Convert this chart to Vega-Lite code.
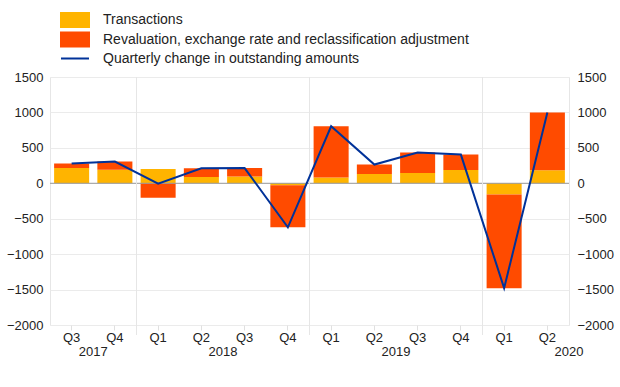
{
  "$schema": "https://vega.github.io/schema/vega-lite/v6.json",
  "width": 519,
  "height": 248,
  "autosize": "none",
  "padding": {"left": 50, "top": 77, "right": 51, "bottom": 62},
  "background": "white",
  "config": {
    "font": "Liberation Sans",
    "view": {"stroke": "#e6e6e6"},
    "axis": {"labelFont": "Liberation Sans", "labelFontSize": 13, "labelColor": "#222", "title": null}
  },
  "datasets": {
    "bars": [
      {"quarter": "2017-Q3", "series": "Transactions", "value": 215},
      {"quarter": "2017-Q3", "series": "Revaluation, exchange rate and reclassification adjustment", "value": 63},
      {"quarter": "2017-Q4", "series": "Transactions", "value": 190},
      {"quarter": "2017-Q4", "series": "Revaluation, exchange rate and reclassification adjustment", "value": 116},
      {"quarter": "2018-Q1", "series": "Transactions", "value": 200},
      {"quarter": "2018-Q1", "series": "Revaluation, exchange rate and reclassification adjustment", "value": -205},
      {"quarter": "2018-Q2", "series": "Transactions", "value": 90},
      {"quarter": "2018-Q2", "series": "Revaluation, exchange rate and reclassification adjustment", "value": 122},
      {"quarter": "2018-Q3", "series": "Transactions", "value": 95},
      {"quarter": "2018-Q3", "series": "Revaluation, exchange rate and reclassification adjustment", "value": 120},
      {"quarter": "2018-Q4", "series": "Transactions", "value": -28},
      {"quarter": "2018-Q4", "series": "Revaluation, exchange rate and reclassification adjustment", "value": -593},
      {"quarter": "2019-Q1", "series": "Transactions", "value": 80},
      {"quarter": "2019-Q1", "series": "Revaluation, exchange rate and reclassification adjustment", "value": 725},
      {"quarter": "2019-Q2", "series": "Transactions", "value": 132},
      {"quarter": "2019-Q2", "series": "Revaluation, exchange rate and reclassification adjustment", "value": 132},
      {"quarter": "2019-Q3", "series": "Transactions", "value": 146},
      {"quarter": "2019-Q3", "series": "Revaluation, exchange rate and reclassification adjustment", "value": 287},
      {"quarter": "2019-Q4", "series": "Transactions", "value": 188},
      {"quarter": "2019-Q4", "series": "Revaluation, exchange rate and reclassification adjustment", "value": 217},
      {"quarter": "2020-Q1", "series": "Transactions", "value": -160},
      {"quarter": "2020-Q1", "series": "Revaluation, exchange rate and reclassification adjustment", "value": -1320},
      {"quarter": "2020-Q2", "series": "Transactions", "value": 184},
      {"quarter": "2020-Q2", "series": "Revaluation, exchange rate and reclassification adjustment", "value": 816}
    ],
    "change": [
      {"quarter": "2017-Q3", "change": 278},
      {"quarter": "2017-Q4", "change": 306},
      {"quarter": "2018-Q1", "change": -5},
      {"quarter": "2018-Q2", "change": 212},
      {"quarter": "2018-Q3", "change": 215},
      {"quarter": "2018-Q4", "change": -621},
      {"quarter": "2019-Q1", "change": 805},
      {"quarter": "2019-Q2", "change": 264},
      {"quarter": "2019-Q3", "change": 433},
      {"quarter": "2019-Q4", "change": 405},
      {"quarter": "2020-Q1", "change": -1480},
      {"quarter": "2020-Q2", "change": 1000}
    ]
  },
  "layer": [
    {
      "layer": [
        {
          "data": {"name": "bars"},
          "mark": {"type": "bar", "width": {"band": 0.81}},
          "encoding": {
            "x": {
              "field": "quarter",
              "type": "ordinal",
              "sort": null,
              "scale": {
                "domain": ["2017-Q3", "2017-Q4", "2018-Q1", "2018-Q2", "2018-Q3", "2018-Q4", "2019-Q1", "2019-Q2", "2019-Q3", "2019-Q4", "2020-Q1", "2020-Q2"],
                "paddingInner": 0,
                "paddingOuter": 0
              },
              "axis": {
                "labelExpr": "substring(datum.value, 5)",
                "labelAngle": 0,
                "ticks": true,
                "tickColor": "#e0e0e0",
                "tickSize": 5,
                "domain": false,
                "grid": false,
                "labelPadding": 1
              }
            },
            "y": {
              "field": "value",
              "type": "quantitative",
              "stack": "zero",
              "scale": {"domain": [-2000, 1500], "nice": false, "zero": false},
              "axis": {
                "orient": "left",
                "values": [-2000, -1500, -1000, -500, 0, 500, 1000, 1500],
                "format": "d",
                "grid": true,
                "gridColor": "#ebebeb",
                "ticks": false,
                "domain": false,
                "labelPadding": 7
              }
            },
            "color": {
              "field": "series",
              "type": "nominal",
              "scale": {
                "domain": ["Transactions", "Revaluation, exchange rate and reclassification adjustment", "Quarterly change in outstanding amounts"],
                "range": ["#FFB400", "#FF4B00", "#003299"]
              },
              "legend": {
                "orient": "none",
                "legendX": 17,
                "legendY": -65,
                "title": null,
                "labelFontSize": 14,
                "labelFont": "Liberation Sans",
                "labelColor": "#222",
                "labelLimit": 0,
                "symbolSize": 196,
                "labelOffset": 20,
                "rowPadding": -2.5,
                "padding": 0,
                "encode": {
                  "symbols": {
                    "update": {
                      "shape": {"signal": "datum.value === 'Quarterly change in outstanding amounts' ? 'M-2,0H2' : 'M-2,-1H2V1H-2Z'"},
                      "fill": {"signal": "datum.value === 'Quarterly change in outstanding amounts' ? 'transparent' : scale('color', datum.value)"},
                      "stroke": {"signal": "datum.value === 'Quarterly change in outstanding amounts' ? scale('color', datum.value) : 'transparent'"},
                      "strokeWidth": {"value": 2},
                      "opacity": {"value": 1}
                    }
                  }
                }
              }
            },
            "order": {"field": "series", "sort": "descending"}
          }
        },
        {
          "data": {"values": [{"zero": 0}]},
          "mark": {"type": "rule", "color": "#999999", "strokeWidth": 1},
          "encoding": {
            "y": {
              "field": "zero",
              "type": "quantitative",
              "axis": {
                "orient": "left",
                "values": [-2000, -1500, -1000, -500, 0, 500, 1000, 1500],
                "format": "d",
                "grid": true,
                "gridColor": "#ebebeb",
                "ticks": false,
                "domain": false,
                "labelPadding": 7
              }
            }
          }
        },
        {
          "data": {"values": [{"quarter": "2018-Q1"}, {"quarter": "2019-Q1"}, {"quarter": "2020-Q1"}]},
          "mark": {"type": "rule", "color": "#e6e6e6", "strokeWidth": 1, "y2Offset": 10},
          "encoding": {
            "x": {"field": "quarter", "type": "ordinal", "bandPosition": 0},
            "y": {
              "datum": 1500,
              "axis": {
                "orient": "left",
                "values": [-2000, -1500, -1000, -500, 0, 500, 1000, 1500],
                "format": "d",
                "grid": true,
                "gridColor": "#ebebeb",
                "ticks": false,
                "domain": false,
                "labelPadding": 7
              }
            },
            "y2": {"datum": -2000}
          }
        },
        {
          "data": {"values": [{"quarter": "2017-Q4", "year": "2017"}, {"quarter": "2018-Q3", "year": "2018"}, {"quarter": "2019-Q3", "year": "2019"}]},
          "mark": {"type": "text", "fontSize": 13, "font": "Liberation Sans", "color": "#222", "baseline": "middle", "dy": 27},
          "encoding": {
            "x": {"field": "quarter", "type": "ordinal", "bandPosition": 0},
            "y": {
              "datum": -2000,
              "axis": {
                "orient": "left",
                "values": [-2000, -1500, -1000, -500, 0, 500, 1000, 1500],
                "format": "d",
                "grid": true,
                "gridColor": "#ebebeb",
                "ticks": false,
                "domain": false,
                "labelPadding": 7
              }
            },
            "text": {"field": "year"}
          }
        },
        {
          "data": {"values": [{"quarter": "2020-Q2", "year": "2020"}]},
          "mark": {"type": "text", "fontSize": 13, "font": "Liberation Sans", "color": "#222", "baseline": "middle", "dy": 27},
          "encoding": {
            "x": {"field": "quarter", "type": "ordinal", "bandPosition": 1},
            "y": {
              "datum": -2000,
              "axis": {
                "orient": "left",
                "values": [-2000, -1500, -1000, -500, 0, 500, 1000, 1500],
                "format": "d",
                "grid": true,
                "gridColor": "#ebebeb",
                "ticks": false,
                "domain": false,
                "labelPadding": 7
              }
            },
            "text": {"field": "year"}
          }
        }
      ]
    },
    {
      "data": {"name": "change"},
      "mark": {"type": "line", "strokeWidth": 2},
      "encoding": {
        "x": {"field": "quarter", "type": "ordinal", "sort": null},
        "y": {
          "field": "change",
          "type": "quantitative",
          "scale": {"domain": [-2000, 1500], "nice": false, "zero": false},
          "axis": {
            "orient": "right",
            "values": [-2000, -1500, -1000, -500, 0, 500, 1000, 1500],
            "format": "d",
            "grid": false,
            "ticks": false,
            "domain": false,
            "labelPadding": 8
          }
        },
        "color": {"datum": "Quarterly change in outstanding amounts"}
      }
    }
  ],
  "resolve": {"scale": {"y": "independent"}}
}
